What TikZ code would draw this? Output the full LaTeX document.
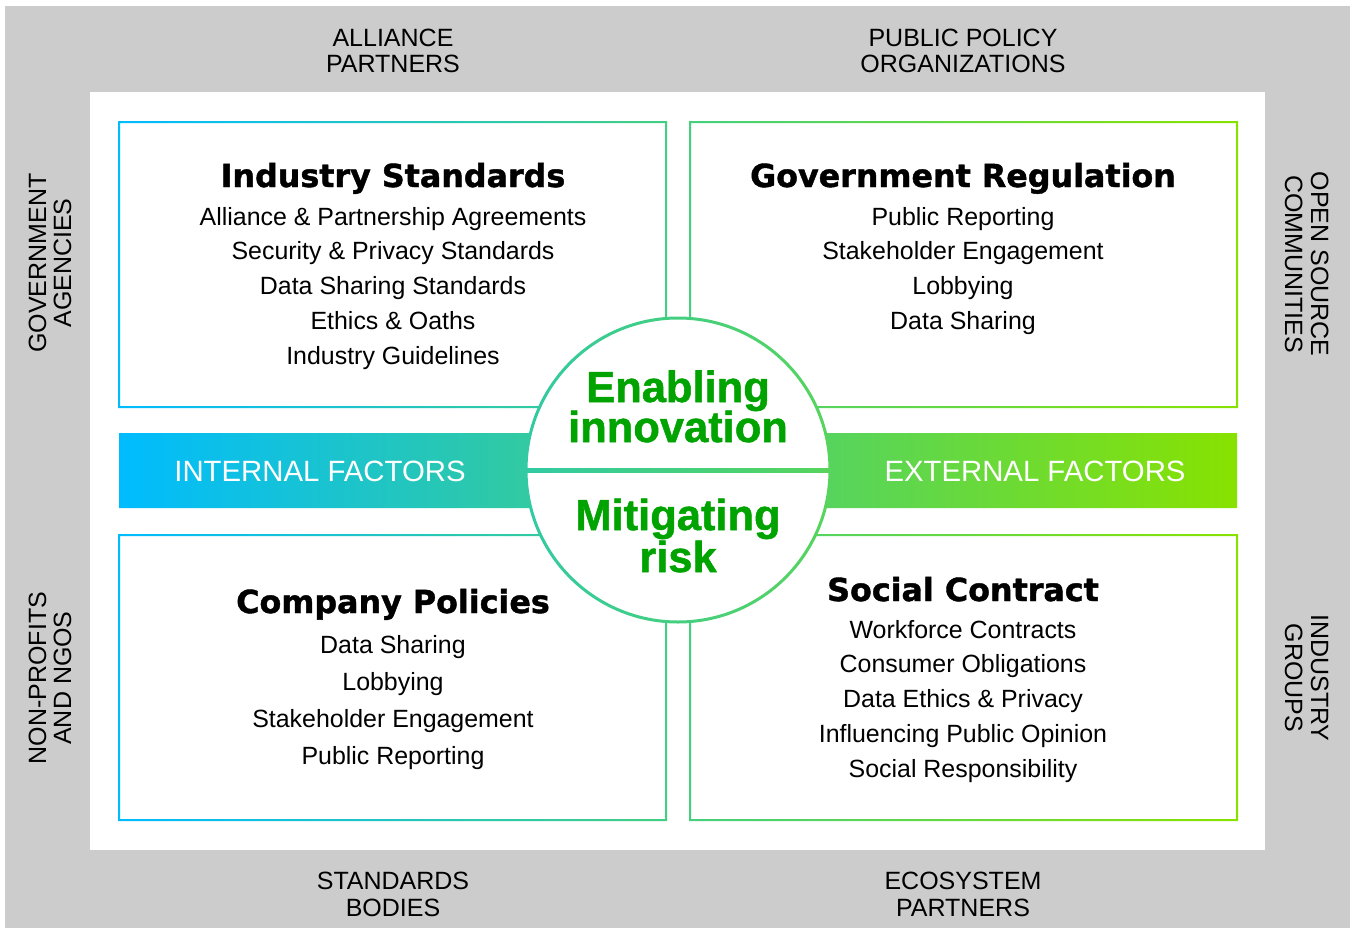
\documentclass[tikz,border=0pt]{standalone}
\usepackage{fontspec}
\setmainfont{Liberation Sans}
\newfontfamily\headfont[BoldFeatures={FakeBold=1.3}]{DejaVu Sans}
\newfontfamily\corefont[BoldFeatures={FakeBold=1.2}]{Liberation Sans}
\usepackage{xcolor}
\usepackage{tikz}

\definecolor{outergray}{RGB}{204,204,204}
\definecolor{startcyan}{RGB}{0,188,255}
\definecolor{endlime}{RGB}{136,226,0}
\definecolor{textgreen}{RGB}{0,163,0}
\colorlet{ringleft}{endlime!36!startcyan}
\colorlet{ringright}{endlime!64!startcyan}

\begin{document}
\begin{tikzpicture}[x=0.75pt, y=-0.75pt,
    outer/.style={font=\fontsize{18.75}{20}\selectfont, anchor=base, inner sep=0pt},
    heading/.style={font=\headfont\bfseries\fontsize{23.8}{28}\selectfont, anchor=base, inner sep=0pt},
    item/.style={font=\fontsize{18.7}{22}\selectfont, anchor=base, inner sep=0pt},
    band/.style={font=\fontsize{22}{26}\selectfont, text=white, anchor=base, inner sep=0pt},
    core/.style={font=\corefont\bfseries\fontsize{32.6}{36}\selectfont, text=textgreen, anchor=base, inner sep=0pt}]
        \useasboundingbox (0,0) rectangle (1352,928);
        \fill[white] (0,0) rectangle (1352,928);
        \fill[outergray] (5,6) rectangle (1350,928);
        \fill[white] (90,92) rectangle (1265,850);
        % the four frames and the band share one gradient
        \shade[left color=startcyan, right color=endlime, even odd rule]
        (118,121) rectangle (667,408) (120,123) rectangle (665,406)
        (689,121) rectangle (1238,408) (691,123) rectangle (1236,406)
        (118,534) rectangle (667,821) (120,536) rectangle (665,819)
        (689,534) rectangle (1238,821) (691,536) rectangle (1236,819)
        (119,433) rectangle (1237,508);
        % centre circle
        \fill[white] (678,470) circle (152);
        \shade[left color=ringleft, right color=ringright, even odd rule]
        (678,470) circle (153.5) (678,470) circle (150.5);
        \shade[left color=ringleft, right color=ringright] (527,468) rectangle (829,472);
        \node[core] (enab) at (678,402) {Enabling};
        \node[core] (innov) at (678,442) {innovation};
        \node[core] (mitig) at (678,530) {Mitigating};
        \node[core] (risk) at (678,572) {risk};
        \node[band] (internal) at (320,481) {INTERNAL FACTORS};
        \node[band] (external) at (1035,481) {EXTERNAL FACTORS};
        % quadrants
        \node[heading] (stdhead) at (393,187) {Industry Standards};
        \foreach \t [count=\i] in {Alliance \& Partnership Agreements, Security \& Privacy Standards,
            Data Sharing Standards, Ethics \& Oaths, Industry Guidelines}
        \node[item] (std\i) at (393,225+34.8*\i-34.8) {\t};
        \node[heading] (govhead) at (963,187) {Government Regulation};
        \foreach \t [count=\i] in {Public Reporting, Stakeholder Engagement, Lobbying, Data Sharing}
        \node[item] (gov\i) at (963,225+34.8*\i-34.8) {\t};
        \node[heading] (comphead) at (393,613) {Company Policies};
        \foreach \t [count=\i] in {Data Sharing, Lobbying, Stakeholder Engagement, Public Reporting}
        \node[item] (comp\i) at (393,653+37.3*\i-37.3) {\t};
        \node[heading] (sochead) at (963,601) {Social Contract};
        \foreach \t [count=\i] in {Workforce Contracts, Consumer Obligations, Data Ethics \& Privacy,
            Influencing Public Opinion, Social Responsibility}
        \node[item] (soc\i) at (963,638+34.8*\i-34.8) {\t};
        % outer ring of stakeholders
        \node[outer] (alliance1) at (393,46) {ALLIANCE};
        \node[outer] (alliance2) at (393,72) {PARTNERS};
        \node[outer] (policy1) at (963,46) {PUBLIC POLICY};
        \node[outer] (policy2) at (963,72) {ORGANIZATIONS};
        \node[outer] (bodies1) at (393,889) {STANDARDS};
        \node[outer] (bodies2) at (393,916) {BODIES};
        \node[outer] (eco1) at (963,889) {ECOSYSTEM};
        \node[outer] (eco2) at (963,916) {PARTNERS};
        \node[outer, rotate=90] (gov1) at (46,263) {GOVERNMENT};
        \node[outer, rotate=90] (gov2) at (71,263) {AGENCIES};
        \node[outer, rotate=90] (ngo1) at (46,678) {NON-PROFITS};
        \node[outer, rotate=90] (ngo2) at (71,678) {AND NGOS};
        \node[outer, rotate=-90] (oss1) at (1311,264) {OPEN SOURCE};
        \node[outer, rotate=-90] (oss2) at (1285,264) {COMMUNITIES};
        \node[outer, rotate=-90] (ind1) at (1311,678) {INDUSTRY};
        \node[outer, rotate=-90] (ind2) at (1285,678) {GROUPS};
    \end{tikzpicture}
\end{document}
